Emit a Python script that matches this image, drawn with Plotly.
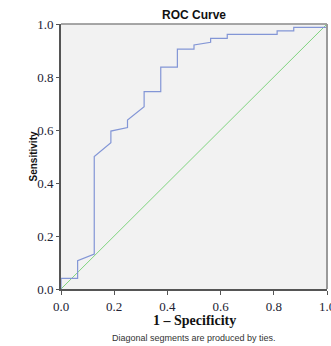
import plotly.graph_objects as go

# ROC curve data (1 - specificity, sensitivity)
fpr = [0, 0, 0.0625, 0.0625, 0.125, 0.125, 0.1875, 0.1875, 0.25, 0.25, 0.3125, 0.3125,
       0.375, 0.375, 0.4375, 0.4375, 0.5, 0.5, 0.5625, 0.5625, 0.625, 0.625, 0.8125,
       0.8125, 0.875, 0.875, 1.0, 1.0]
tpr = [0, 0.04, 0.04, 0.107, 0.132, 0.50, 0.552, 0.596, 0.609, 0.638, 0.688, 0.745,
       0.745, 0.837, 0.837, 0.905, 0.905, 0.921, 0.931, 0.946, 0.946, 0.961, 0.961,
       0.974, 0.974, 0.987, 0.987, 1.0]
ref_x = [0, 1]
ref_y = [0, 1]
tick_vals = [0, 0.2, 0.4, 0.6, 0.8, 1.0]
tick_text = ["0.0", "0.2", "0.4", "0.6", "0.8", "1.0"]

fig = go.Figure()
fig.add_trace(go.Scatter(x=ref_x, y=ref_y, mode="lines",
                         line=dict(color="#7fd47f", width=1), hoverinfo="skip"))
fig.add_trace(go.Scatter(x=fpr, y=tpr, mode="lines",
                         line=dict(color="#8396d6", width=1.2), hoverinfo="skip"))

serif = "Liberation Serif, Times New Roman, serif"
sans = "Liberation Sans, Arial, sans-serif"

fig.update_layout(
    width=331, height=346,
    margin=dict(l=61, r=4, t=24, b=57),
    paper_bgcolor="white", plot_bgcolor="#f2f2f2",
    showlegend=False,
    xaxis=dict(range=[0, 1], tickvals=tick_vals, ticktext=tick_text, automargin=False,
               showgrid=False, zeroline=False, showline=True, mirror=False,
               ticklabeloverflow="allow",
               linecolor="#555555", linewidth=2, ticks="outside", ticklen=4,
               tickcolor="#555555", tickfont=dict(family=serif, size=13, color="#222233")),
    yaxis=dict(range=[0, 1], tickvals=tick_vals, ticktext=tick_text, automargin=False,
               showgrid=False, zeroline=False, showline=True, mirror=False,
               ticklabeloverflow="allow",
               linecolor="#555555", linewidth=2, ticks="outside", ticklen=3,
               tickcolor="#555555", tickfont=dict(family=serif, size=13, color="#222233")),
    shapes=[
        dict(type="line", xref="paper", yref="paper", x0=0, x1=1, y0=1, y1=1,
             line=dict(color="#8a8a8a", width=1.5)),
        dict(type="line", xref="paper", yref="paper", x0=1, x1=1, y0=0, y1=1,
             line=dict(color="#9a9a9a", width=2)),
    ],
    annotations=[
        dict(text="<b>ROC Curve</b>", xref="paper", yref="paper", x=0.5, y=1,
             xanchor="center", yanchor="middle",
             yshift=9, showarrow=False, font=dict(family=sans, size=12, color="#111111")),
        dict(text="<b>Sensitivity</b>", xref="paper", yref="paper", x=0, y=0.5,
             xanchor="center", yanchor="middle",
             xshift=-28, textangle=-90, showarrow=False,
             font=dict(family=sans, size=10, color="#111111")),
        dict(text="<b>1 – Specificity</b>", xref="paper", yref="paper", x=0.5, y=0,
             xanchor="center", yanchor="middle",
             yshift=-31, showarrow=False, font=dict(family=serif, size=14, color="#111111")),
        dict(text="Diagonal segments are produced by ties.", xref="paper", yref="paper",
             x=0.5, y=0, xanchor="center", yanchor="middle", yshift=-49, showarrow=False,
             font=dict(family=sans, size=9, color="#333333")),
    ],
)

fig.write_html("out.html", config={"displayModeBar": False},
               post_script="document.body.style.margin='0';")
